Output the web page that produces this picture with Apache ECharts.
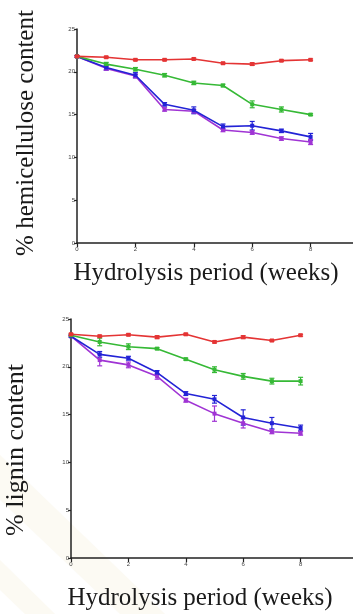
<!DOCTYPE html>
<html>
<head>
<meta charset="utf-8">
<script src="https://cdn.jsdelivr.net/npm/echarts@6/dist/echarts.min.js"></script>
<style>
  html, body { margin: 0; padding: 0; background: #fff; }
  #chart { width: 353px; height: 614px; }
</style>
</head>
<body>
<div id="chart"></div>
<script>
var weeks = [0, 1, 2, 3, 4, 5, 6, 7, 8];
var xTicks = [0, 2, 4, 6, 8];
var yTicks = [0, 5, 10, 15, 20, 25];

// hemicellulose (%), top panel
var hemiRed     = [21.8, 21.7, 21.4, 21.4, 21.5, 21.0, 20.9, 21.3, 21.4];
var hemiGreen   = [21.8, 20.9, 20.3, 19.6, 18.7, 18.4, 16.2, 15.6, 15.0];
var hemiBlue    = [21.8, 20.5, 19.6, 16.2, 15.5, 13.6, 13.7, 13.1, 12.4];
var hemiMagenta = [21.8, 20.4, 19.5, 15.6, 15.4, 13.2, 12.9, 12.2, 11.8];
var hemiRedErr     = [0.1, 0.1, 0.1, 0.1, 0.1, 0.1, 0.15, 0.1, 0.1];
var hemiGreenErr   = [0.1, 0.2, 0.2, 0.2, 0.2, 0.15, 0.4, 0.3, 0.1];
var hemiBlueErr    = [0.1, 0.3, 0.3, 0.2, 0.4, 0.3, 0.5, 0.2, 0.4];
var hemiMagentaErr = [0.1, 0.2, 0.2, 0.2, 0.2, 0.2, 0.2, 0.2, 0.3];

// lignin (%), bottom panel
var ligRed     = [23.4, 23.2, 23.35, 23.1, 23.4, 22.6, 23.1, 22.75, 23.3];
var ligGreen   = [23.3, 22.6, 22.1, 21.9, 20.8, 19.7, 19.0, 18.5, 18.5];
var ligBlue    = [23.2, 21.3, 20.9, 19.4, 17.2, 16.6, 14.7, 14.1, 13.6];
var ligMagenta = [23.2, 20.7, 20.2, 19.0, 16.5, 15.1, 14.1, 13.2, 13.05];
var ligRedErr     = [0.1, 0.1, 0.1, 0.15, 0.1, 0.1, 0.15, 0.1, 0.1];
var ligGreenErr   = [0.1, 0.4, 0.3, 0.1, 0.1, 0.3, 0.3, 0.3, 0.4];
var ligBlueErr    = [0.1, 0.3, 0.2, 0.2, 0.2, 0.4, 0.8, 0.6, 0.3];
var ligMagentaErr = [0.1, 0.6, 0.3, 0.3, 0.2, 0.8, 0.5, 0.2, 0.2];

var RED = '#e43434', GREEN = '#36b936', BLUE = '#2323d6', MAGENTA = '#a034d4';
var SERIF = '"Liberation Serif", "DejaVu Serif", serif';

function lineSeries(idx, vals, color, z) {
    return {
        type: 'line', xAxisIndex: idx, yAxisIndex: idx,
        data: weeks.map(function(w, i) { return [w, vals[i]]; }),
        symbol: 'rect', symbolSize: 4, z: z,
        lineStyle: { color: color, width: 1.6 },
        itemStyle: { color: color },
        animation: false
    };
}

function errSeries(idx, vals, errs, color, z) {
    return {
        type: 'custom', xAxisIndex: idx, yAxisIndex: idx, z: z,
        data: weeks.map(function(w, i) { return [w, vals[i] - errs[i], vals[i] + errs[i]]; }),
        renderItem: function(params, api) {
            var lo = api.coord([api.value(0), api.value(1)]);
            var hi = api.coord([api.value(0), api.value(2)]);
            var cap = 2.5;
            var st = { stroke: color, lineWidth: 1.2 };
            return {
                type: 'group',
                children: [
                    { type: 'line', shape: { x1: lo[0], y1: lo[1], x2: hi[0], y2: hi[1] }, style: st },
                    { type: 'line', shape: { x1: lo[0] - cap, y1: lo[1], x2: lo[0] + cap, y2: lo[1] }, style: st },
                    { type: 'line', shape: { x1: hi[0] - cap, y1: hi[1], x2: hi[0] + cap, y2: hi[1] }, style: st }
                ]
            };
        },
        animation: false
    };
}

function xAxisCfg(idx) {
    return {
        type: 'value', gridIndex: idx, min: 0, max: 10, interval: 2,
        axisLine: { onZero: false, lineStyle: { color: '#222', width: 1.5 } },
        axisTick: { length: 4, lineStyle: { color: '#222', width: 1.2 } },
        axisLabel: {
            fontSize: 6, color: '#444', margin: 3, showMaxLabel: false,
            formatter: function(v) { return xTicks.indexOf(v) >= 0 ? String(v) : ''; }
        },
        splitLine: { show: false }
    };
}

function yAxisCfg(idx) {
    return {
        type: 'value', gridIndex: idx, min: yTicks[0], max: yTicks[yTicks.length - 1], interval: 5,
        axisLine: { lineStyle: { color: '#222', width: 1.5 } },
        axisTick: { length: 3, lineStyle: { color: '#222', width: 1.2 } },
        axisLabel: { fontSize: 6, color: '#444', margin: 2 },
        splitLine: { show: false }
    };
}

function title(text, x, y, size, vertical) {
    return {
        type: 'text', x: x, y: y, rotation: vertical ? Math.PI / 2 : 0,
        style: {
            text: text, font: size + 'px ' + SERIF, fill: '#1a1a1a',
            align: 'center', verticalAlign: 'middle'
        }
    };
}

var chart = echarts.init(document.getElementById('chart'));
chart.setOption({
    backgroundColor: '#ffffff',
    animation: false,
    grid: [
        { left: 77, top: 29, height: 214, width: 292, outerBoundsMode: 'none', containLabel: false },
        { left: 71, top: 319, height: 239, width: 287, outerBoundsMode: 'none', containLabel: false }
    ],
    xAxis: [xAxisCfg(0), xAxisCfg(1)],
    yAxis: [yAxisCfg(0), yAxisCfg(1)],
    graphic: [
        {
            type: 'polygon', silent: true, z: -10,
            shape: { points: [[0, 455], [0, 500], [120, 614], [165, 614]] },
            style: { fill: '#fcfaf3' }
        },
        {
            type: 'polygon', silent: true, z: -10,
            shape: { points: [[0, 560], [0, 590], [25, 614], [55, 614]] },
            style: { fill: '#fcfaf3' }
        },
        title('% hemicellulose content', 26, 133, 25, true),
        title('% lignin content', 16, 450, 26, true),
        title('Hydrolysis period (weeks)', 206, 273, 25, false),
        title('Hydrolysis period (weeks)', 200, 598, 25, false)
    ],
    series: [
        errSeries(0, hemiGreen, hemiGreenErr, GREEN, 2),
        errSeries(0, hemiBlue, hemiBlueErr, BLUE, 2),
        errSeries(0, hemiMagenta, hemiMagentaErr, MAGENTA, 2),
        errSeries(0, hemiRed, hemiRedErr, RED, 2),
        lineSeries(0, hemiMagenta, MAGENTA, 3),
        lineSeries(0, hemiBlue, BLUE, 4),
        lineSeries(0, hemiGreen, GREEN, 5),
        lineSeries(0, hemiRed, RED, 6),

        errSeries(1, ligGreen, ligGreenErr, GREEN, 2),
        errSeries(1, ligBlue, ligBlueErr, BLUE, 2),
        errSeries(1, ligMagenta, ligMagentaErr, MAGENTA, 2),
        errSeries(1, ligRed, ligRedErr, RED, 2),
        lineSeries(1, ligMagenta, MAGENTA, 3),
        lineSeries(1, ligBlue, BLUE, 4),
        lineSeries(1, ligGreen, GREEN, 5),
        lineSeries(1, ligRed, RED, 6)
    ]
});
</script>
</body>
</html>
